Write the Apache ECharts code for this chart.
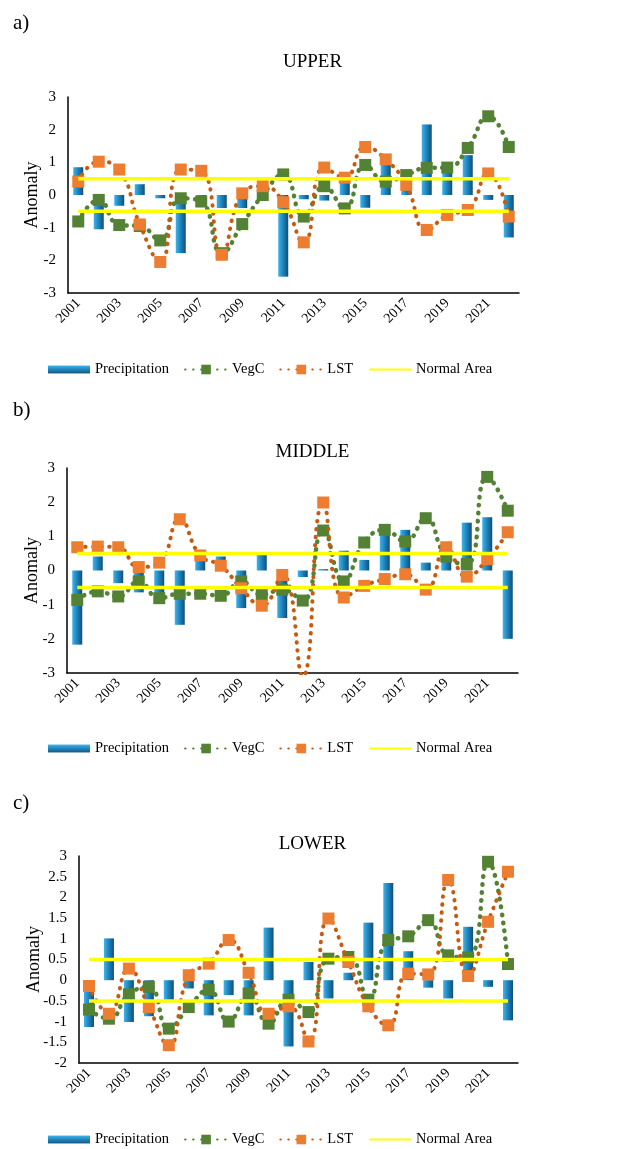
<!DOCTYPE html>
<html>
<head>
<meta charset="utf-8">
<script src="https://cdn.jsdelivr.net/npm/echarts@6/dist/echarts.min.js"></script>
<style>
  html, body { margin: 0; padding: 0; background: #fff; }
  #chart { width: 625px; height: 1149px; }
</style>
</head>
<body>
<div id="chart"></div>
<script>
var years = ['2001','2002','2003','2004','2005','2006','2007','2008','2009','2010','2011',
             '2012','2013','2014','2015','2016','2017','2018','2019','2020','2021','2022'];

// a) UPPER
var upperPrecip = [0.85,-1.05,-0.33,0.33,-0.1,-1.78,-0.2,-0.4,-0.4,0.05,-2.5,
                   -0.13,-0.17,0.68,-0.39,1.22,0.6,2.16,0.87,1.22,-0.15,-1.3];
var upperVegC   = [-0.81,-0.15,-0.92,-0.95,-1.39,-0.1,-0.2,-1.78,-0.89,0.0,0.63,
                   -0.66,0.27,-0.41,0.92,0.41,0.61,0.83,0.84,1.44,2.41,1.47];
var upperLST    = [0.41,1.02,0.78,-0.9,-2.05,0.78,0.74,-1.83,0.05,0.27,-0.22,
                   -1.45,0.84,0.53,1.47,1.09,0.31,-1.07,-0.61,-0.46,0.66,-0.66];

// b) MIDDLE
var middlePrecip = [-2.17,0.41,-0.37,-0.64,-0.75,-1.59,0.39,0.41,-1.1,0.5,-1.39,
                    -0.19,0.04,0.58,0.31,1.36,1.19,0.23,0.3,1.4,1.56,-2.0];
var middleVegC   = [-0.86,-0.61,-0.76,-0.32,-0.81,-0.68,-0.68,-0.74,-0.32,-0.71,-0.56,
                    -0.88,1.17,-0.32,0.82,1.19,0.85,1.53,0.41,0.19,2.74,1.75];
var middleLST    = [0.68,0.7,0.68,0.1,0.23,1.5,0.44,0.14,-0.52,-1.03,-0.13,
                    -3.1,1.99,-0.79,-0.45,-0.25,-0.11,-0.56,0.68,-0.18,0.33,1.12];

// c) LOWER
var lowerPrecip = [-1.13,1.01,-1.01,-0.87,-0.5,-0.2,-0.85,-0.36,-0.85,1.27,-1.6,
                   0.44,-0.44,0.18,1.39,2.35,0.7,-0.18,-0.44,1.29,-0.16,-0.97];
var lowerVegC   = [-0.71,-0.93,-0.34,-0.16,-1.17,-0.65,-0.23,-1.0,-0.32,-1.05,-0.47,
                   -0.77,0.52,0.56,-0.47,0.97,1.06,1.45,0.6,0.55,2.86,0.39];
var lowerLST    = [-0.14,-0.81,0.28,-0.65,-1.57,0.12,0.4,0.97,0.18,-0.81,-0.63,
                   -1.48,1.49,0.44,-0.63,-1.09,0.16,0.14,2.42,0.1,1.41,2.62];

var normalBounds = [0.5, -0.5];

var panels = [
  { label: 'a)', title: 'UPPER',  precip: upperPrecip,  vegc: upperVegC,  lst: upperLST,
    min: -3, max: 3, interval: 1 },
  { label: 'b)', title: 'MIDDLE', precip: middlePrecip, vegc: middleVegC, lst: middleLST,
    min: -3, max: 3, interval: 1 },
  { label: 'c)', title: 'LOWER',  precip: lowerPrecip,  vegc: lowerVegC,  lst: lowerLST,
    min: -2, max: 3, interval: 0.5 }
];

// layout of each panel (px)
var boxes = [
  { left: 68, top: 97,  width: 451, height: 196, labelTop: 8,   titleTop: 48,  legendTop: 357, nameGap: 27 },
  { left: 67, top: 468, width: 451, height: 205, labelTop: 395, titleTop: 438, legendTop: 736, nameGap: 26 },
  { left: 79, top: 856, width: 439, height: 207, labelTop: 788, titleTop: 830, legendTop: 1127, nameGap: 36 }
];

var font = 'Liberation Serif, Times New Roman, serif';

var barColor = new echarts.graphic.LinearGradient(0, 0, 1, 0, [
  { offset: 0, color: '#3fb4ea' },
  { offset: 0.45, color: '#1f86bf' },
  { offset: 1, color: '#0f4f78' }
]);
// legend swatch: thin strip inside the 12px icon box
var barLegendColor = new echarts.graphic.LinearGradient(0, 0, 0, 1, [
  { offset: 0, color: 'rgba(255,255,255,0)' },
  { offset: 0.16, color: 'rgba(255,255,255,0)' },
  { offset: 0.17, color: '#3fb4ea' },
  { offset: 0.5, color: '#1f86bf' },
  { offset: 0.83, color: '#17557a' },
  { offset: 0.84, color: 'rgba(255,255,255,0)' },
  { offset: 1, color: 'rgba(255,255,255,0)' }
]);

var titles = [], grids = [], xAxes = [], yAxes = [], legends = [], series = [];

panels.forEach(function (p, i) {
  var b = boxes[i];
  titles.push({ text: p.label, left: 8, top: b.labelTop,
    textStyle: { fontFamily: font, fontSize: 21, fontWeight: 'normal', color: '#000' } });
  titles.push({ text: p.title, left: 'center', top: b.titleTop,
    textStyle: { fontFamily: font, fontSize: 19, fontWeight: 'normal', color: '#000' } });

  grids.push({ left: b.left, top: b.top, width: b.width, height: b.height });

  xAxes.push({
    type: 'category', gridIndex: i, data: years, boundaryGap: true,
    axisLine: { onZero: false, lineStyle: { color: '#000', width: 1.5 } },
    axisTick: { alignWithLabel: true, interval: 0, length: 5, lineStyle: { color: '#000' } },
    axisLabel: { interval: 1, rotate: 45, margin: 8, fontFamily: font, fontSize: 14, color: '#000' }
  });

  yAxes.push({
    type: 'value', gridIndex: i, min: p.min, max: p.max, interval: p.interval,
    name: 'Anomaly', nameLocation: 'middle', nameGap: b.nameGap, nameMoveOverlap: false,
    nameTextStyle: { fontFamily: font, fontSize: 18, color: '#000' },
    axisLine: { show: true, lineStyle: { color: '#000', width: 1.5 } },
    axisTick: { show: false },
    splitLine: { show: false },
    axisLabel: { margin: 12, fontFamily: font, fontSize: 15, color: '#000' }
  });

  legends.push({
    top: b.legendTop, left: 43, itemGap: 15, itemWidth: 42, itemHeight: 12,
    textStyle: { fontFamily: font, fontSize: 14.5, color: '#000' },
    data: [
      { name: 'Precipitation', icon: 'rect', itemStyle: { color: barLegendColor } },
      'VegC',
      'LST',
      { name: 'Normal Area', itemStyle: { opacity: 0 } }
    ]
  });

  series.push({
    name: 'Precipitation', type: 'bar', xAxisIndex: i, yAxisIndex: i,
    data: p.precip, barWidth: 10, itemStyle: { color: barColor }, z: 1
  });
  series.push({
    name: 'VegC', type: 'line', xAxisIndex: i, yAxisIndex: i, data: p.vegc,
    smooth: 0.5, symbol: 'rect', symbolSize: 12, clip: true,
    itemStyle: { color: '#548235' },
    lineStyle: { color: '#548235', width: 4.5, type: [0.5, 7.5], cap: 'round' }, z: 3
  });
  series.push({
    name: 'LST', type: 'line', xAxisIndex: i, yAxisIndex: i, data: p.lst,
    smooth: 0.5, symbol: 'rect', symbolSize: 12, clip: true,
    itemStyle: { color: '#ed7d31' },
    lineStyle: { color: '#c55a11', width: 4, type: [0.5, 7.5], cap: 'round' }, z: 4
  });
  normalBounds.forEach(function (v) {
    series.push({
      name: 'Normal Area', type: 'line', xAxisIndex: i, yAxisIndex: i,
      data: years.map(function () { return v; }),
      symbol: 'none', silent: true, itemStyle: { color: '#ffff00' },
      lineStyle: { color: '#ffff00', width: 3.5 }, z: 5
    });
  });
});

var chart = echarts.init(document.getElementById('chart'));
chart.setOption({
  animation: false,
  backgroundColor: '#fff',
  title: titles,
  grid: grids,
  xAxis: xAxes,
  yAxis: yAxes,
  legend: legends,
  series: series
});
</script>
</body>
</html>
